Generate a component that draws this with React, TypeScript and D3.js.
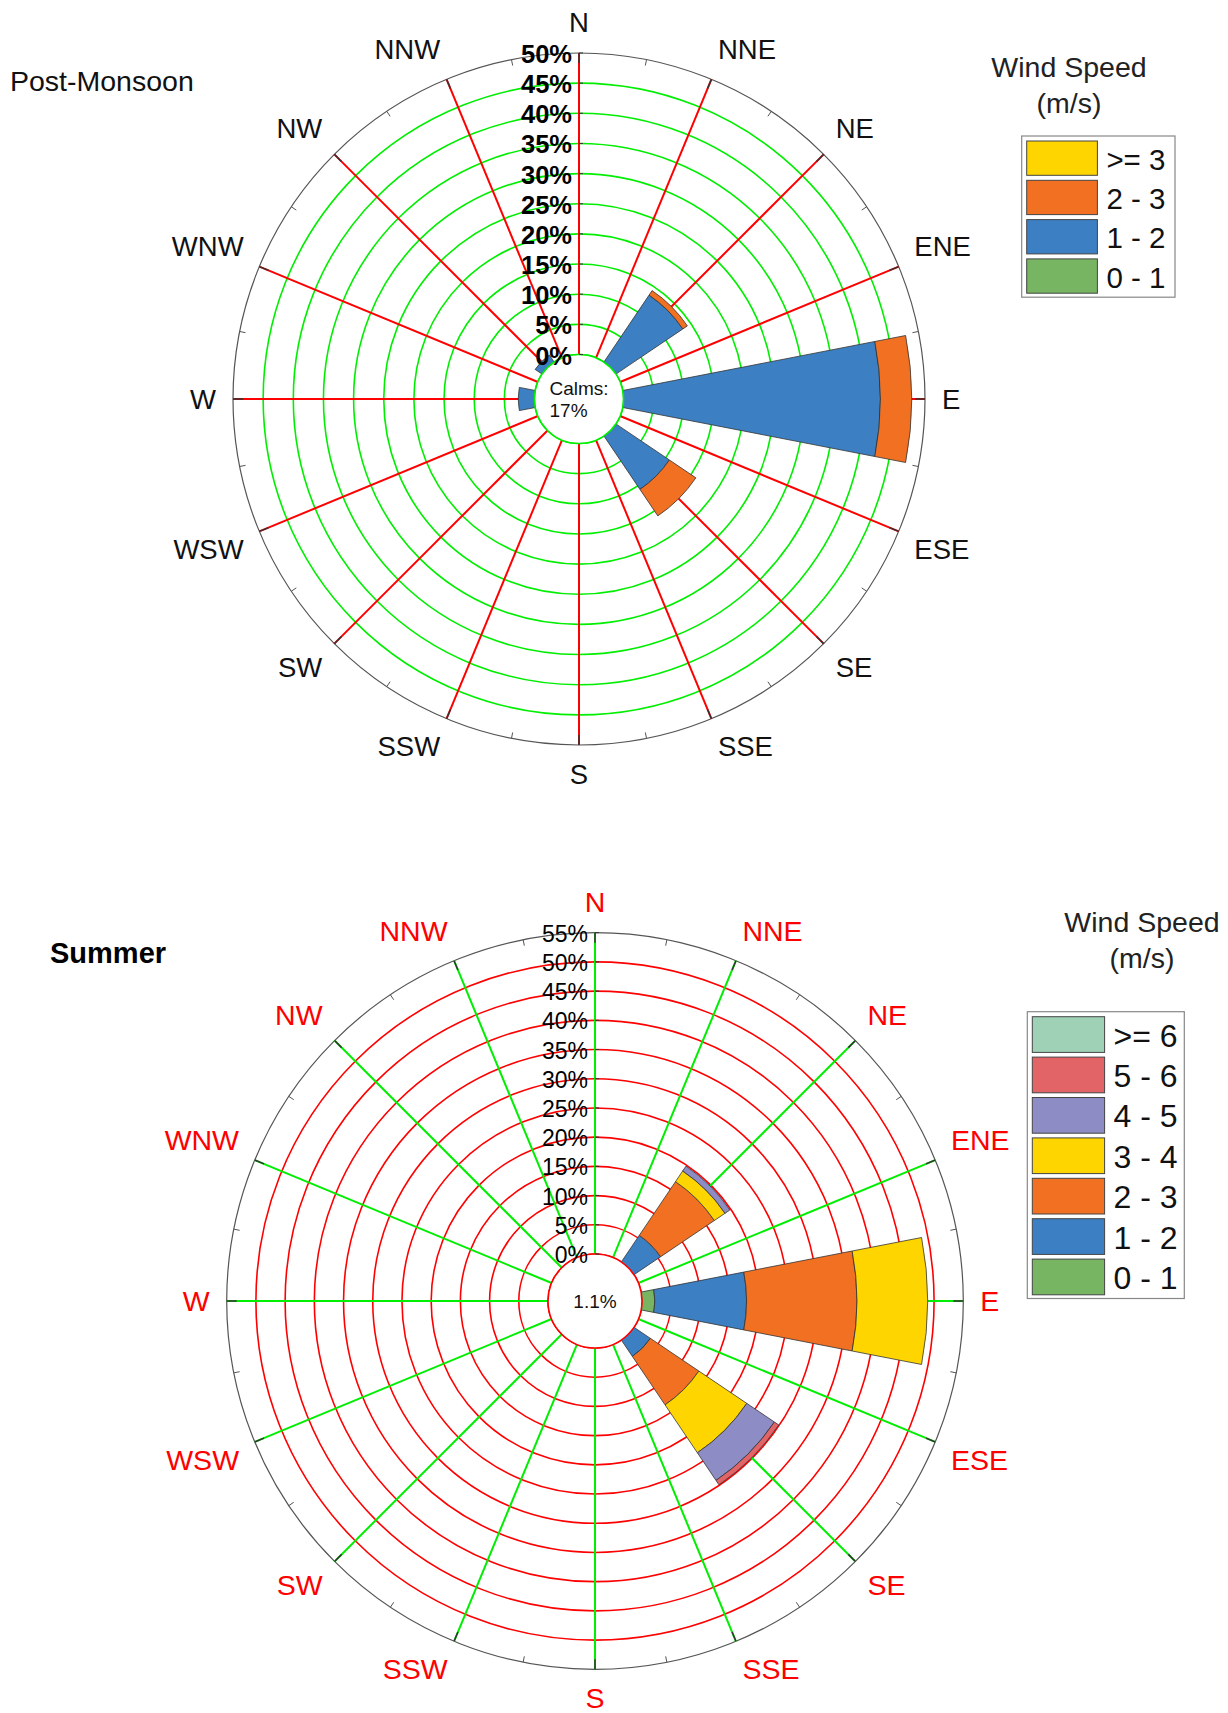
import React from 'react';
import * as d3 from 'd3';

// 16 compass directions, clockwise from north
const DIRS = ['N', 'NNE', 'NE', 'ENE', 'E', 'ESE', 'SE', 'SSE', 'S', 'SSW', 'SW', 'WSW', 'W', 'WNW', 'NW', 'NNW'];

// Post-Monsoon (% of time per direction, by speed bin)
const PM_BINS = ['0 - 1', '1 - 2', '2 - 3', '>= 3'];
const PM_0_1 = [0, 0, 0, 0, 0, 0, 0, 0, 0, 0, 0, 0, 0, 0, 0, 0];
const PM_1_2 = [0, 0, 13.4, 0, 42.6, 0, 10.7, 0, 0, 0, 0, 0, 2.7, 0, 1.4, 0];
const PM_2_3 = [0, 0, 0.9, 0, 5.2, 0, 5.3, 0, 0, 0, 0, 0, 0, 0, 0, 0];
const PM_3_UP = [0, 0, 0, 0, 0, 0, 0, 0, 0, 0, 0, 0, 0, 0, 0, 0];
const PM_RINGS = [0, 5, 10, 15, 20, 25, 30, 35, 40, 45, 50];
const PM_CALMS = '17%';

// Summer
const SU_BINS = ['0 - 1', '1 - 2', '2 - 3', '3 - 4', '4 - 5', '5 - 6', '>= 6'];
const SU_0_1 = [0, 0, 0, 0, 2.2, 0, 0, 0, 0, 0, 0, 0, 0, 0, 0, 0];
const SU_1_2 = [0, 0, 5.5, 0, 15.7, 0, 3.4, 0, 0, 0, 0, 0, 0, 0, 0, 0];
const SU_2_3 = [0, 0, 11.1, 0, 18.9, 0, 10.0, 0, 0, 0, 0, 0, 0, 0, 0, 0];
const SU_3_4 = [0, 0, 2.2, 0, 12.1, 0, 9.9, 0, 0, 0, 0, 0, 0, 0, 0, 0];
const SU_4_5 = [0, 0, 1.0, 0, 0, 0, 5.7, 0, 0, 0, 0, 0, 0, 0, 0, 0];
const SU_5_6 = [0, 0, 0, 0, 0, 0, 0.9, 0, 0, 0, 0, 0, 0, 0, 0, 0];
const SU_6_UP = [0, 0, 0, 0, 0, 0, 0, 0, 0, 0, 0, 0, 0, 0, 0, 0];
const SU_RINGS = [0, 5, 10, 15, 20, 25, 30, 35, 40, 45, 50, 55];
const SU_CALMS = '1.1%';

const PM_COLORS = ['#78b562', '#3c80c3', '#f17022', '#ffd500'];
const SU_COLORS = ['#78b562', '#3c80c3', '#f17022', '#ffd500', '#8d8cc4', '#e36466', '#9fd1b6'];

const FONT = 'Liberation Sans, Arial, Helvetica, sans-serif';
const DEG = Math.PI / 180;

type RoseProps = {
  cx: number; cy: number; innerR: number; outerR: number;
  rings: number[]; bins: string[]; values: number[][]; colors: string[];
  ringColor: string; spokeColor: string; dirColor: string; dirSize: number;
  pctBold: boolean; pctSize: number;
};

const Rose = ({ cx, cy, innerR, outerR, rings, bins, values, colors, ringColor, spokeColor, dirColor, dirSize, pctBold, pctSize }: RoseProps) => {
  const maxPct = rings[rings.length - 1];
  const r = d3.scaleLinear().domain([0, maxPct]).range([innerR, outerR]);
  const angle = d3.scaleLinear().domain([0, DIRS.length]).range([0, 2 * Math.PI]);
  const halfW = 11 * DEG;

  // build table and stack the speed bins outward
  const table = DIRS.map((d, i) => {
    const row: any = { dir: d };
    bins.forEach((b, j) => { row[b] = values[j][i]; });
    return row;
  });
  const stacked = d3.stack().keys(bins)(table);
  const arc = d3.arc();

  const labR = outerR + 17;

  return (
    <g transform={`translate(${cx},${cy})`}>
      {/* rings */}
      {rings.slice(0, -1).map(v => (
        <circle key={v} r={r(v)} fill="none" stroke={ringColor} strokeWidth={1.6} />
      ))}
      <circle r={outerR} fill="none" stroke="#555" strokeWidth={1.2} />
      {/* spokes */}
      {DIRS.map((d, i) => {
        const a = angle(i);
        const s = Math.sin(a), c = -Math.cos(a);
        return (
          <g key={d}>
            <line x1={innerR * s} y1={innerR * c} x2={outerR * s} y2={outerR * c} stroke={spokeColor} strokeWidth={2} />
            <line x1={(outerR - 10) * s} y1={(outerR - 10) * c} x2={outerR * s} y2={outerR * c} stroke="#333" strokeWidth={1.5} />
          </g>
        );
      })}
      {/* minor ticks between directions */}
      {DIRS.map((d, i) => {
        const a = angle(i + 0.5);
        const s = Math.sin(a), c = -Math.cos(a);
        return <line key={d} x1={(outerR - 6) * s} y1={(outerR - 6) * c} x2={outerR * s} y2={outerR * c} stroke="#555" strokeWidth={1} />;
      })}
      {/* wedges */}
      {stacked.map((series, j) => (
        <g key={bins[j]}>
          {series.map((seg, i) => {
            if (seg[1] - seg[0] <= 0) return null;
            const a = angle(i);
            const path = arc({ innerRadius: r(seg[0]), outerRadius: r(seg[1]), startAngle: a - halfW, endAngle: a + halfW } as any);
            return <path key={i} d={path || ''} fill={colors[j]} stroke="#333" strokeWidth={0.8} />;
          })}
        </g>
      ))}
      {/* calm circle */}
      <circle r={innerR} fill="#fff" stroke={ringColor} strokeWidth={1.6} />
      {/* percent labels along N spoke */}
      {rings.map(v => (
        <g key={v}>
          <line x1={0} y1={-r(v)} x2={4} y2={-r(v)} stroke="#333" strokeWidth={1} />
          <text x={-7} y={-r(v) + 1} textAnchor="end" dominantBaseline="central"
            fontSize={pctSize} fontWeight={pctBold ? 'bold' : 'normal'} fontFamily={FONT} fill="#000">{`${v}%`}</text>
        </g>
      ))}
      {/* direction labels */}
      {DIRS.map((d, i) => {
        const a = angle(i);
        const s = Math.sin(a), c = Math.cos(a);
        const anchor = s > 0.01 ? 'start' : s < -0.01 ? 'end' : 'middle';
        const dy = c > 0.01 ? -14 : c < -0.01 ? 12 : 0;
        return (
          <text key={d} x={labR * s} y={-labR * c + dy} textAnchor={anchor} dominantBaseline="central"
            fontSize={dirSize} fontFamily={FONT} fill={dirColor}>{d}</text>
        );
      })}
    </g>
  );
};

type LegendProps = {
  x: number; y: number; titleX: number; titleY: number; bins: string[]; colors: string[];
  sw: number; sh: number; pitch: number; fontSize: number; boxW: number;
};

const Legend = ({ x, y, titleX, titleY, bins, colors, sw, sh, pitch, fontSize, boxW }: LegendProps) => {
  const rows = bins.map((b, j) => ({ b, c: colors[j] })).reverse();
  const boxH = rows.length * pitch + 4;
  return (
    <g fontFamily={FONT}>
      <text x={titleX} y={titleY} textAnchor="middle" fontSize={28.5} fill="#222">Wind Speed</text>
      <text x={titleX} y={titleY + 36} textAnchor="middle" fontSize={28.5} fill="#222">(m/s)</text>
      <rect x={x} y={y} width={boxW} height={boxH} fill="#fff" stroke="#888" strokeWidth={1.2} />
      {rows.map((row, k) => (
        <g key={row.b}>
          <rect x={x + 5} y={y + 5 + k * pitch} width={sw} height={sh} fill={row.c} stroke="#444" strokeWidth={1} />
          <text x={x + sw + 14} y={y + 5 + k * pitch + sh / 2 + 1} dominantBaseline="central" fontSize={fontSize} fill="#111">{row.b}</text>
        </g>
      ))}
    </g>
  );
};

export default function App() {
  return (
    <svg width={1228} height={1713} style={{ position: 'absolute', left: 0, top: 0, background: '#fff' }}>
      <rect width={1228} height={1713} fill="#fff" />
      <text x={10} y={91} fontSize={28.5} fontFamily={FONT} fill="#111">Post-Monsoon</text>
      <Rose cx={579} cy={399} innerR={44.5} outerR={346} rings={PM_RINGS} bins={PM_BINS}
        values={[PM_0_1, PM_1_2, PM_2_3, PM_3_UP]} colors={PM_COLORS}
        ringColor="#00ee00" spokeColor="#ff0000" dirColor="#111" dirSize={27.5} pctBold={true} pctSize={25.5} />
      <text x={549.5} y={395} fontSize={19} fontFamily={FONT} fill="#111">Calms:</text>
      <text x={549.5} y={417} fontSize={19} fontFamily={FONT} fill="#111">{PM_CALMS}</text>
      <Legend x={1021.7} y={136} titleX={1069} titleY={77} bins={PM_BINS} colors={PM_COLORS}
        sw={70.7} sh={34.3} pitch={39.3} fontSize={29.5} boxW={153.3} />

      <text x={50} y={962.5} fontSize={29} fontWeight="bold" fontFamily={FONT} fill="#000">Summer</text>
      <Rose cx={595} cy={1301} innerR={47} outerR={368.3} rings={SU_RINGS} bins={SU_BINS}
        values={[SU_0_1, SU_1_2, SU_2_3, SU_3_4, SU_4_5, SU_5_6, SU_6_UP]} colors={SU_COLORS}
        ringColor="#ff0000" spokeColor="#00ee00" dirColor="#ff0000" dirSize={28.5} pctBold={false} pctSize={23} />
      <text x={595} y={1301} textAnchor="middle" dominantBaseline="central" fontSize={19} fontFamily={FONT} fill="#111">{SU_CALMS}</text>
      <Legend x={1027.3} y={1011.7} titleX={1142} titleY={932} bins={SU_BINS} colors={SU_COLORS}
        sw={72.3} sh={35.7} pitch={40.4} fontSize={32} boxW={157} />
    </svg>
  );
}
